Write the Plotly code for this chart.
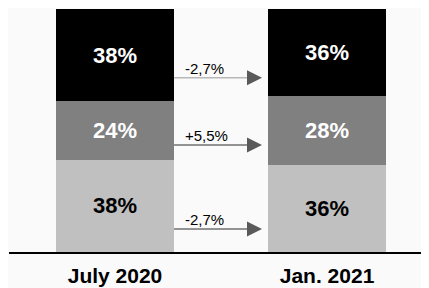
import plotly.graph_objects as go

periods = ["July 2020", "Jan. 2021"]
bottom_vals = [38, 36]
middle_vals = [24, 28]
top_vals = [38, 36]
changes = ["-2,7%", "+5,5%", "-2,7%"]  # top, middle, bottom

BG = "#fafafa"
FONT = "Arial, Liberation Sans, sans-serif"
xs = [0, 1]
W = 0.557

fig = go.Figure()
series = [
    (bottom_vals, "#c0c0c0", "#000000"),
    (middle_vals, "#808080", "#ffffff"),
    (top_vals, "#000000", "#ffffff"),
]
for vals, col, tcol in series:
    fig.add_trace(go.Bar(
        x=xs, y=vals, width=W, marker=dict(color=col, line=dict(width=0)),
        text=[f"{v}%" for v in vals], textposition="inside",
        insidetextanchor="middle",
        textfont=dict(family=FONT, size=22, color=tcol, weight="bold"),
        hoverinfo="skip",
    ))

# arrows between bars: y positions (data units) at top, middle, bottom segments
arrow_y = [71.7, 44.0, 9.5]
line_cols = ["#b8b8b8", "#707070", "#707070"]
x0 = W / 2
x1 = 1 - W / 2 - 0.028
head = 0.071
hh = 3.1
for yv, lc, lab in zip(arrow_y, line_cols, changes):
    fig.add_shape(type="line", x0=x0, x1=x1 - head, y0=yv, y1=yv,
                  xref="x", yref="y", line=dict(color=lc, width=1.5))
    fig.add_shape(type="path", xref="x", yref="y",
                  path=f"M{x1-head},{yv-hh} L{x1},{yv} L{x1-head},{yv+hh} Z",
                  fillcolor="#5a5a5a", line=dict(width=0))
    fig.add_annotation(x=x0 + 0.042, y=yv, xref="x", yref="y", text=lab,
                       showarrow=False, xanchor="left", yanchor="bottom", yshift=-1,
                       font=dict(family=FONT, size=15, color="#000000"))

fig.update_layout(
    barmode="stack", width=421, height=280,
    margin=dict(l=1, r=0, t=1, b=36),
    paper_bgcolor=BG, plot_bgcolor=BG, showlegend=False,
    xaxis=dict(range=[-0.5, 1.481], tickvals=xs, ticktext=periods,
               showgrid=False, zeroline=False, showline=True,
               linecolor="#000000", linewidth=2, ticks="outside",
               ticklen=4, tickcolor="rgba(0,0,0,0)", automargin=False,
               tickfont=dict(family=FONT, size=21, color="#000000", weight="bold")),
    yaxis=dict(range=[0, 100], visible=False),
)
fig.write_html("out.html")
